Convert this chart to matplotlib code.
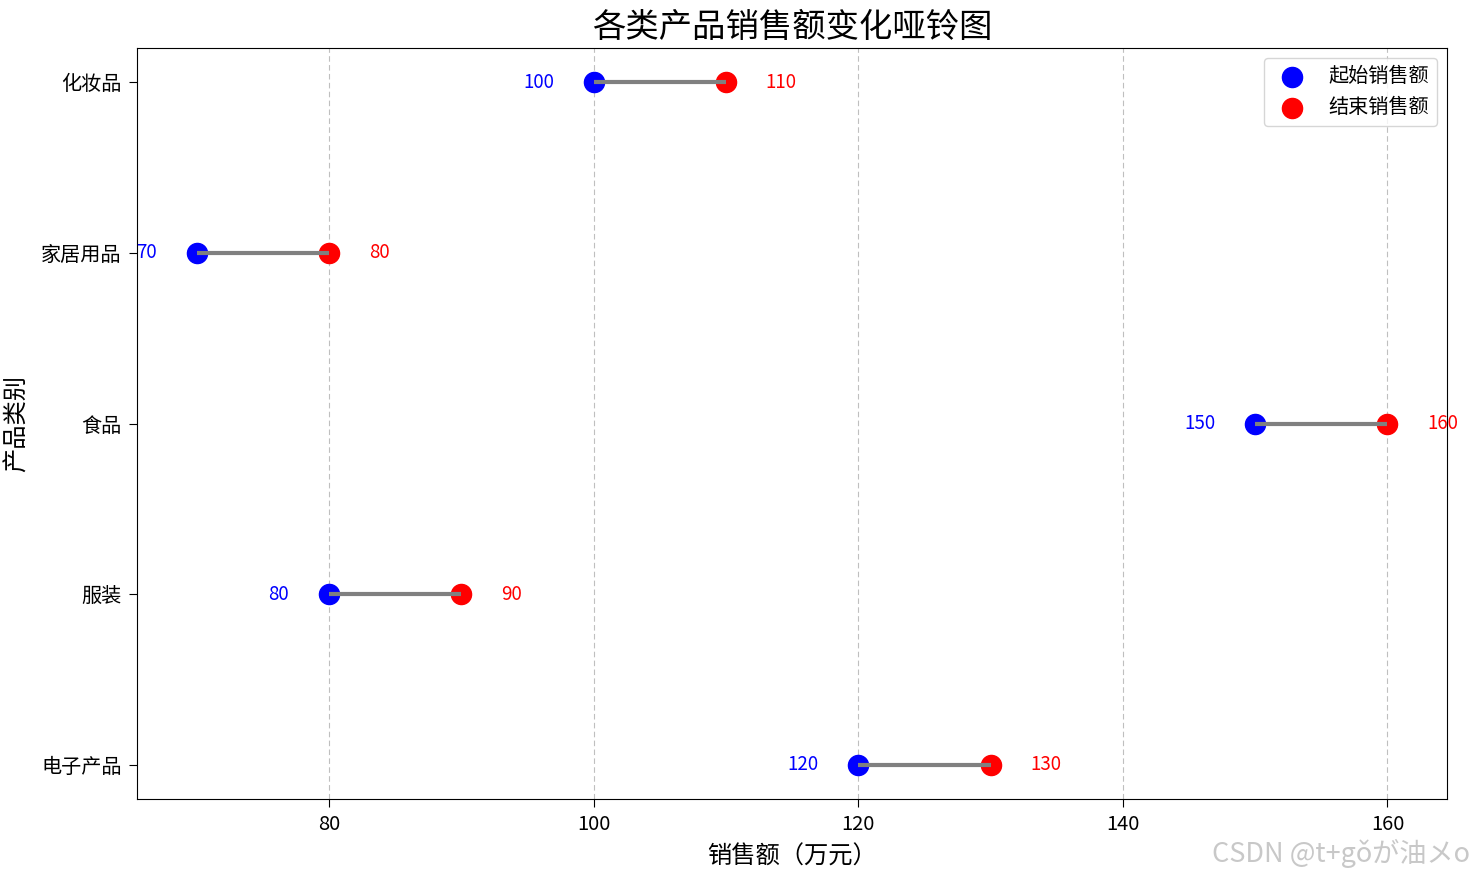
import matplotlib
matplotlib.use('Agg')
import matplotlib.pyplot as plt

plt.rcParams['font.family'] = ['Noto Sans CJK SC', 'DejaVu Sans']
plt.rcParams['axes.unicode_minus'] = False

# data
categories = ['电子产品', '服装', '食品', '家居用品', '化妆品']
start_sales = [120, 80, 150, 70, 100]
end_sales = [130, 90, 160, 80, 110]

fig, ax = plt.subplots(figsize=(14.74, 8.75), dpi=100)
fig.subplots_adjust(left=0.093, right=0.9817, top=0.945, bottom=0.087)

ypos = list(range(len(categories)))

ax.scatter(start_sales, ypos, color='blue', s=210, label='起始销售额', zorder=2)
ax.scatter(end_sales, ypos, color='red', s=210, label='结束销售额', zorder=2)
ax.hlines(ypos, start_sales, end_sales, color='gray', linewidth=3, zorder=3)

# value labels
for y, s, e in zip(ypos, start_sales, end_sales):
    ax.text(s - 3, y, str(s), color='blue', ha='right', va='center', fontsize=13.5)
    ax.text(e + 3, y, str(e), color='red', ha='left', va='center', fontsize=13.5)

ax.set_yticks(ypos)
ax.set_yticklabels(categories)
ax.tick_params(axis='both', labelsize=14.5, length=6, pad=5)
ax.grid(axis='x', linestyle='--', alpha=0.8, dashes=(5, 3), zorder=4)

ax.set_title('各类产品销售额变化哑铃图', fontsize=24, pad=8)
ax.set_xlabel('销售额（万元）', fontsize=17.5, labelpad=6)
ax.set_ylabel('产品类别', fontsize=17.5, labelpad=8)
ax.legend(loc='upper right', fontsize=14.5)

fig.text(0.997, 0.008, 'CSDN @t+gǒが油メo', color='#c8c8c8', fontsize=19.5,
         ha='right', va='bottom',
         family=['Noto Sans CJK JP', 'DejaVu Sans'])

plt.savefig('out.png', dpi=100)
